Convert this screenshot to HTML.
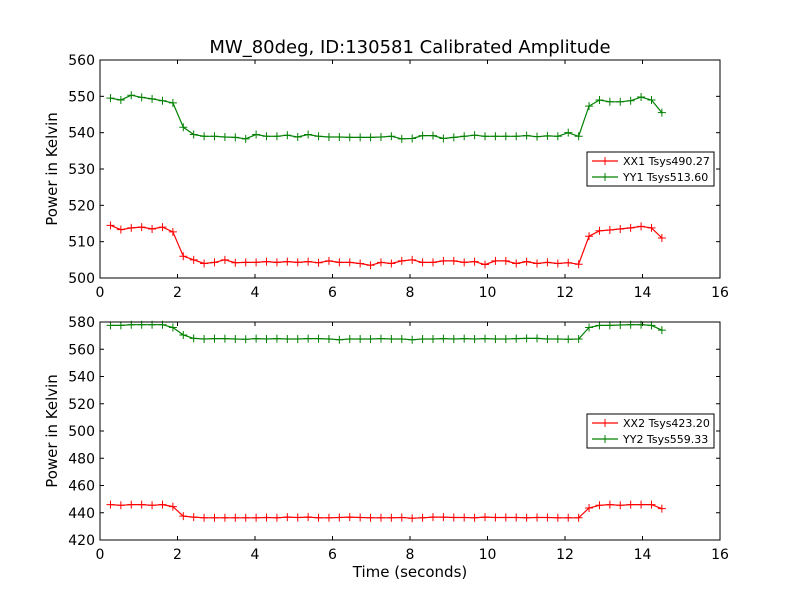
<!DOCTYPE html>
<html><head><meta charset="utf-8"><style>
body{margin:0;background:#fff}
svg{display:block;font-family:"DejaVu Sans","Liberation Sans",sans-serif}
</style></head><body>
<svg id="chart" width="800" height="600" viewBox="0 0 800 600">
<rect width="800" height="600" fill="#fff"/>
<text x="410" y="53" font-size="18" text-anchor="middle">MW_80deg, ID:130581 Calibrated Amplitude</text>
</svg>
<script>
const nPts = 54;
const tStart = 0.27;
const tEnd = 14.5;
const xx1 = [514.5,513.3,513.8,514,513.5,514,512.7,
 506,505,504,504.3,505,504.2,504.3,504.3,504.5,504.3,504.5,504.3,504.5,504.2,504.7,504.3,504.3,504,503.5,504.3,504,504.7,505,504.3,504.3,504.7,504.7,504.3,504.5,503.7,504.7,504.7,504,504.5,504,504.3,504,504.2,503.8,
 511.5,513,513.2,513.5,513.8,514.2,513.8,511];
const yy1 = [549.5,549,550.3,549.7,549.3,548.8,548.2,
 541.5,539.5,539,539,538.8,538.7,538.3,539.5,539,539,539.3,538.8,539.5,539,538.8,538.8,538.7,538.7,538.7,538.8,539,538.3,538.4,539.2,539.2,538.4,538.7,539,539.3,539,539,539,539,539.2,538.9,539.1,539,540,539,
 547.3,549,548.5,548.5,548.8,549.8,549,545.5];
const xx2 = [446,445.5,446,446,445.5,446,444.5,
 437.5,436.8,436.3,436.3,436.3,436.3,436.3,436.3,436.5,436.3,436.8,436.5,436.8,436.3,436.3,436.5,436.8,436.5,436.3,436.3,436.3,436.5,436,436.3,436.8,436.8,436.5,436.5,436.3,436.8,436.5,436.5,436.5,436.3,436.5,436.5,436.3,436.3,436.3,
 443.5,445.5,446,445.5,446,446,446,443];
const yy2 = [577.5,577.5,578,578,578,578,576,
 570.5,568,567.5,567.8,567.8,567.5,567.3,567.8,567.5,567.8,567.5,567.5,567.8,567.8,567.5,567,567.5,567.5,567.5,567.8,567.5,567.5,567,567.5,567.5,567.8,567.5,567.8,567.5,567.8,567.5,567.5,567.8,568,568,567.5,567.5,567.3,567.5,
 576,577.5,577.5,577.8,578,578,577.5,574];
const xTicks = [0,2,4,6,8,10,12,14,16];
const yTicksTop = [500,510,520,530,540,550,560];
const yTicksBot = [420,440,460,480,500,520,540,560,580];
const legendTop = ["XX1 Tsys490.27","YY1 Tsys513.60"];
const legendBot = ["XX2 Tsys423.20","YY2 Tsys559.33"];

const NS="http://www.w3.org/2000/svg";
const svg=document.getElementById('chart');
function mk(tag,attrs,parent){const e=document.createElementNS(NS,tag);for(const k in attrs)e.setAttribute(k,attrs[k]);(parent||svg).appendChild(e);return e;}
const times=[];for(let i=0;i<nPts;i++)times.push(tStart+i*(tEnd-tStart)/(nPts-1));

function panel(name,top,bottom,ymin,ymax,yTicks,s1,s2,leg,legY,showXLabel){
  const L=100,R=720;
  const g=mk('g',{});
  
  
  const xs=v=>L+(v-0)/(16-0)*(R-L);
  const ys=v=>bottom-(v-ymin)/(ymax-ymin)*(bottom-top);
  xTicks.forEach(t=>{
    const x=xs(t);
    mk('line',{x1:x,x2:x,y1:bottom,y2:bottom-4,stroke:'#000'},g);
    mk('line',{x1:x,x2:x,y1:top,y2:top+4,stroke:'#000'},g);
    const tx=mk('text',{x:x,y:bottom+19,'font-size':14,'text-anchor':'middle'},g);
    tx.textContent=t;
    
    
  });
  yTicks.forEach(t=>{
    const y=ys(t);
    mk('line',{x1:L,x2:L+4,y1:y,y2:y,stroke:'#000'},g);
    mk('line',{x1:R,x2:R-4,y1:y,y2:y,stroke:'#000'},g);
    const tx=mk('text',{x:L-5,y:y+5,'font-size':14,'text-anchor':'end'},g);
    tx.textContent=t;
    
    
  });
  [[s1,'#ff0000','xx'],[s2,'#008000','yy']].forEach(([s,c,nm])=>{
    const pts=s.map((v,i)=>xs(times[i]).toFixed(1)+','+ys(v).toFixed(1)).join(' ');
    const pl=mk('polyline',{points:pts,fill:'none',stroke:c,'stroke-width':1.2},g);
    
    
    s.forEach((v,i)=>{
      const x=xs(times[i]),y=ys(v);
      mk('path',{d:`M${x-4},${y}H${x+4}M${x},${y-4}V${y+4}`,stroke:c,'stroke-width':1},g);
    });
  });
  mk('rect',{x:L,y:top,width:R-L,height:bottom-top,fill:'none',stroke:'#000','stroke-width':1},g);
  const yl=mk('text',{x:0,y:0,'font-size':15,'text-anchor':'middle',transform:`translate(57,${(top+bottom)/2}) rotate(-90)`},g);
  yl.textContent='Power in Kelvin';
  
  
  const lg=mk('g',{},g);
  
  
  mk('rect',{x:587,y:legY,width:127,height:34,fill:'#fff',stroke:'#000','stroke-width':1},lg);
  ['#ff0000','#008000'].forEach((c,i)=>{
    const y=legY+9+i*16;
    mk('line',{x1:592,x2:618,y1:y,y2:y,stroke:c,'stroke-width':1.2},lg);
    mk('path',{d:`M605,${y-4}V${y+4}M597,${y}H613`,stroke:c},lg);
    const t=mk('text',{x:623,y:y+4,'font-size':11},lg);
    t.textContent=leg[i];
    
    
  });
  if(showXLabel){
    const xl=mk('text',{x:410,y:577,'font-size':15,'text-anchor':'middle'},g);
    xl.textContent='Time (seconds)';
    
    
  }
}
panel('top-panel',60,278,500,560,yTicksTop,xx1,yy1,legendTop,152,false);
panel('bottom-panel',322,540,420,580,yTicksBot,xx2,yy2,legendBot,414,true);
</script>
</body></html>
